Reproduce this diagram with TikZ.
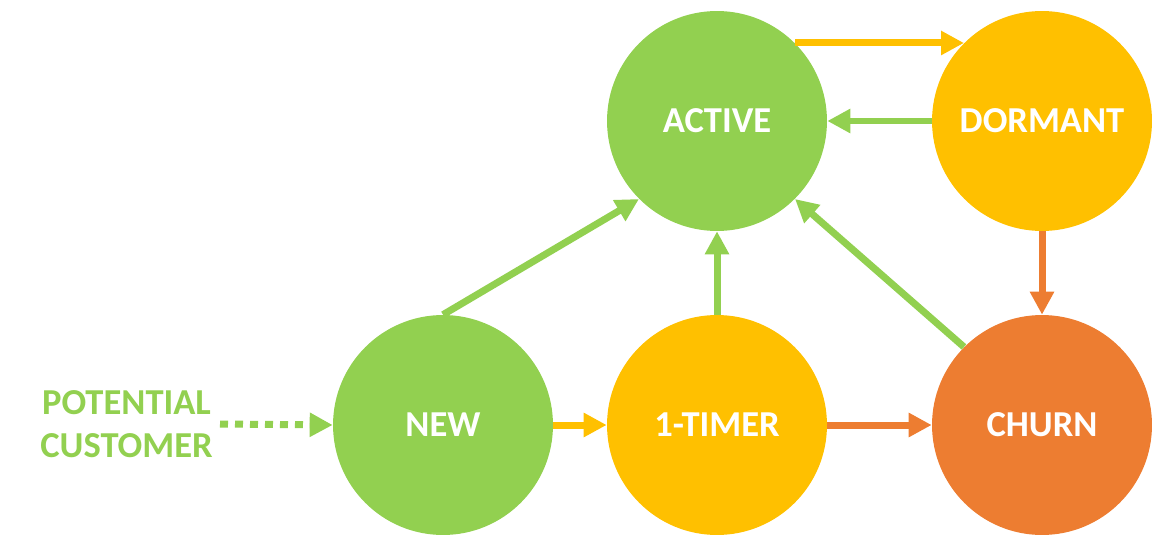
\documentclass[tikz,border=0pt]{standalone}
\usepackage{fontspec}
\setmainfont{Carlito}
\usetikzlibrary{arrows.meta,positioning}
\definecolor{cgreen}{HTML}{92D050}
\definecolor{cyellow}{HTML}{FFC000}
\definecolor{corange}{HTML}{ED7D31}

\begin{document}
\begin{tikzpicture}[x=0.02cm, y=-0.02cm,
    state/.style={circle, minimum size=4.4cm, inner sep=0pt, text=white, font=\fontsize{20.8}{24}\selectfont\bfseries},
    arr/.style={-{Triangle[length=0.46cm, width=0.46cm]}, line width=0.14cm}
]
\useasboundingbox (0,0) rectangle (1162,554);
\node[state, fill=cgreen] (active) at (717,121) {ACTIVE};
\node[state, fill=cyellow] (dormant) at (1042,121) {DORMANT};
\node[state, fill=cgreen] (new) at (443,425) {NEW};
\node[state, fill=cyellow] (timer) at (717,425) {1-TIMER};
\node[state, fill=corange] (churn) at (1042,425) {CHURN};
\node[anchor=east, align=center, inner sep=0.14cm, text=cgreen, font=\fontsize{20.8}{24.5}\selectfont\bfseries] (pot) at (220,424) {POTENTIAL\\CUSTOMER};

\draw[arr, cyellow] (active.45) -- (dormant.135);
\draw[arr, cgreen] (dormant.west) -- (active.east);
\draw[arr, corange] (dormant.south) -- (churn.north);
\draw[arr, cgreen] (new.north) -- (active.225);
\draw[arr, cgreen] (timer.north) -- (active.south);
\draw[arr, cgreen] (churn.135) -- (active.315);
\draw[arr, cyellow] (new.east) -- (timer.west);
\draw[arr, corange] (timer.east) -- (churn.west);
\draw[arr, cgreen, dash pattern=on 0.16cm off 0.14cm] (pot.east) -- (new.west);
\end{tikzpicture}
\end{document}
